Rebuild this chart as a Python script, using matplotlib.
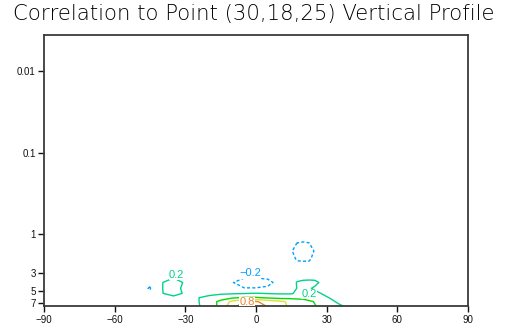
import matplotlib
matplotlib.use("Agg")
import matplotlib.pyplot as plt
from matplotlib.ticker import NullLocator
import numpy as np

# Latitude columns (deg) and vertical levels of the correlation field
lats = [-50, -45, -40, -35, -30, -25, -20, -15, -10, -5,
        0, 5, 10, 15, 17.5, 20, 22.5, 25, 30, 35, 40, 45]
levels = [1.0, 1.3, 1.6, 2.0, 2.4, 3.2, 3.9, 4.6, 5.3, 6.0, 6.7, 7.64]

# Correlation to the base point, one row per level
corr = [
    # 1.0
    [0, 0, 0, 0, 0, 0, 0, 0, 0, 0, 0, 0, 0,
     -0.05, -0.10, -0.12, -0.10, -0.05, 0, 0, 0, 0],
    # 1.3
    [0, 0, 0, 0, 0, 0, 0, 0, 0, -0.01, -0.02, -0.02, -0.04,
     -0.12, -0.21, -0.22, -0.21, -0.12, -0.03, 0, 0, 0],
    # 1.6
    [0, 0, 0, 0, 0, 0, 0, 0, 0, -0.02, -0.03, -0.04, -0.06,
     -0.18, -0.30, -0.32, -0.30, -0.18, -0.05, 0, 0, 0],
    # 2.0
    [0, 0, 0, 0.01, 0, 0, 0, 0, -0.01, -0.03, -0.04, -0.05, -0.06,
     -0.10, -0.24, -0.28, -0.25, -0.10, -0.04, 0, 0, 0],
    # 2.4
    [0, 0, 0, 0.02, 0, 0, 0, 0, -0.02, -0.05, -0.06, -0.06, -0.06,
     -0.05, -0.10, -0.05, -0.10, -0.05, -0.03, 0, 0, 0],
    # 3.2
    [0, -0.05, 0.05, 0.15, 0.05, 0, 0, -0.03, -0.08, -0.15, -0.15, -0.12, -0.06,
     0.05, 0.08, 0.10, 0.10, 0.10, 0.05, 0, 0, 0],
    # 3.9
    [-0.05, -0.15, 0.19, 0.30, 0.17, 0.05, 0, -0.05, -0.19, -0.30, -0.30, -0.28, -0.10,
     0.08, 0.22, 0.25, 0.26, 0.25, 0.10, 0.03, 0, 0],
    # 4.6
    [-0.10, -0.22, 0.19, 0.32, 0.12, 0.05, 0.05, 0.0, -0.10, -0.19, -0.19, -0.15, -0.05,
     0.10, 0.21, 0.26, 0.22, 0.17, 0.08, 0.03, 0, 0],
    # 5.3
    [0, -0.15, 0.19, 0.28, 0.17, 0.10, 0.15, 0.17, 0.18, 0.19, 0.21, 0.19, 0.18,
     0.18, 0.24, 0.30, 0.27, 0.25, 0.15, 0.08, 0.03, 0],
    # 6.0
    [0, 0.02, 0.08, 0.14, 0.10, 0.19, 0.25, 0.32, 0.38, 0.42, 0.42, 0.38, 0.35,
     0.35, 0.35, 0.36, 0.33, 0.30, 0.22, 0.12, 0.05, 0],
    # 6.7
    [0, 0.03, 0.06, 0.10, 0.13, 0.18, 0.30, 0.45, 0.65, 0.81, 0.82, 0.72, 0.64,
     0.56, 0.51, 0.47, 0.43, 0.39, 0.28, 0.17, 0.10, 0.03],
    # 7.64
    [0, 0.05, 0.08, 0.10, 0.12, 0.17, 0.30, 0.45, 0.75, 0.88, 0.95, 0.78, 0.68,
     0.55, 0.51, 0.48, 0.44, 0.41, 0.30, 0.24, 0.15, 0.05],
]

contour_levels = [-0.2, 0.2, 0.4, 0.6, 0.8]
contour_colors = ["#00a0ff", "#00d28c", "#00dc00", "#e6dc32", "#f08228"]

x_ticks = [-90, -60, -30, 0, 30, 60, 90]
x_ticklabels = ["\u221290", "\u221260", "\u221230", "0", "30", "60", "90"]
y_ticks = [0.01, 0.1, 1, 3, 5, 7]
y_ticklabels = ["0.01", "0.1", "1", "3", "5", "7"]

title = "Correlation to Point (30,18,25) Vertical Profile"

# Where each contour level gets its value label (lat, level)
label_spots = {
    -0.2: [(-2.6, 3.02)],
    0.2: [(-33.7, 3.18), (22.5, 5.45)],
    0.8: [(-3.7, 6.7)],
}


def level_text(v):
    return f"{v:.1f}".replace("-", "\u2212")


W, H = 507, 327
fig = plt.figure(figsize=(W / 100, H / 100), dpi=100)
fig.patch.set_facecolor("white")

left, right, top, bottom = 44, 468, 35, 306.3
ax = fig.add_axes([left / W, 1 - bottom / H, (right - left) / W, (bottom - top) / H])

ax.set_yscale("log")
ax.set_xlim(-90, 90)
ax.set_ylim(7.64, 0.00359)

X, Y = np.meshgrid(np.array(lats, float), np.array(levels, float))
Z = np.array(corr, float)

for lev, col in zip(contour_levels, contour_colors):
    ls = (0, (2.2, 1.6)) if lev < 0 else "solid"
    cs = ax.contour(X, Y, Z, levels=[lev], colors=[col], linewidths=1.0,
                    linestyles=[ls])
    if lev in label_spots:
        spots = label_spots[lev]
        texts = ax.clabel(cs, manual=spots, inline=False, fontsize=8,
                          fmt=level_text)
        for t, spot in zip(texts, spots):
            t.set_position(spot)
            t.set_rotation(0)
            t.set_fontfamily("Liberation Sans")
            t.set_zorder(5)
            t.set_bbox(dict(facecolor="white", edgecolor="none", pad=0.1))

ax.set_xticks(x_ticks)
ax.set_xticklabels(x_ticklabels)
ax.set_yticks(y_ticks)
ax.set_yticklabels(y_ticklabels)
ax.yaxis.set_minor_locator(NullLocator())
ax.xaxis.set_minor_locator(NullLocator())
ax.tick_params(direction="out", length=4, width=1, labelsize=7, pad=2,
               colors="#111111")
for lab in ax.get_xticklabels() + ax.get_yticklabels():
    lab.set_fontfamily("Liberation Sans")
for sp in ax.spines.values():
    sp.set_linewidth(1.3)
    sp.set_color("#3a3a3a")

# Title scaled to span the page width
ttl = fig.text(0.5, 1 - 14 / H, title, ha="center", va="center",
               fontsize=14, color="#000000", family="DejaVu Sans",
               fontweight="light")
renderer = fig.canvas.get_renderer()
w = ttl.get_window_extent(renderer).width
ttl.set_fontsize(14 * 485 / w)

fig.savefig("out.png", dpi=100, facecolor="white")
